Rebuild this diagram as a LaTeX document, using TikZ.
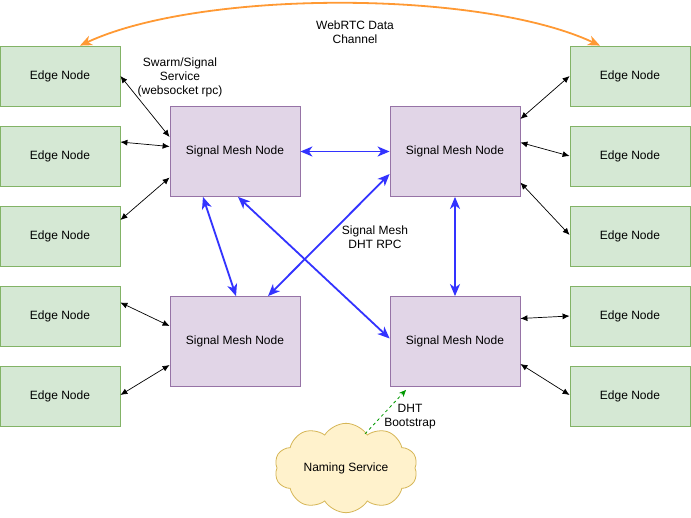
\documentclass[tikz,border=0pt]{standalone}
\usepackage{fontspec}
\setmainfont{Liberation Sans}
\usetikzlibrary{arrows.meta,shapes.symbols}
\definecolor{edgefill}{HTML}{D5E8D4}
\definecolor{edgeline}{HTML}{82B366}
\definecolor{meshfill}{HTML}{E1D5E7}
\definecolor{meshline}{HTML}{9673A6}
\definecolor{cloudfill}{HTML}{FFF2CC}
\definecolor{cloudline}{HTML}{D6B656}
\definecolor{rpcblue}{HTML}{3333FF}
\definecolor{rtcorange}{HTML}{FF9933}
\definecolor{bootgreen}{HTML}{009900}

\begin{document}
\begin{tikzpicture}[x=1pt,y=-1pt,font=\fontsize{12}{14}\selectfont,
    edge/.style = {draw=edgeline, fill=edgefill, line width=0.8pt, minimum width=120pt, minimum height=60pt, inner sep=0pt},
    mesh/.style = {draw=meshline, fill=meshfill, line width=0.8pt, minimum width=130pt, minimum height=90pt, inner sep=0pt},
    link/.style = {{Latex[length=7pt,width=6pt]}-{Latex[length=7pt,width=6pt]}, line width=0.7pt},
    rpc/.style = {{Stealth[length=12pt,width=10pt,inset=3.5pt]}-{Stealth[length=12pt,width=10pt,inset=3.5pt]}, draw=rpcblue, line width=1.8pt},
    lbl/.style = {align=center, inner sep=0pt}]
    \useasboundingbox[fill=white] (0,0) rectangle (691,517);

    \node[edge] (l1) at (60,76) {Edge Node};
    \node[edge] (l2) at (60,156) {Edge Node};
    \node[edge] (l3) at (60,236) {Edge Node};
    \node[edge] (l4) at (60,316) {Edge Node};
    \node[edge] (l5) at (60,396) {Edge Node};
    \node[edge] (r1) at (630,76) {Edge Node};
    \node[edge] (r2) at (630,156) {Edge Node};
    \node[edge] (r3) at (630,236) {Edge Node};
    \node[edge] (r4) at (630,316) {Edge Node};
    \node[edge] (r5) at (630,396) {Edge Node};

    \node[mesh] (tl) at (235,151.5) {Signal Mesh Node};
    \node[mesh] (tr) at (455,151.5) {Signal Mesh Node};
    \node[mesh] (bl) at (235,341.5) {Signal Mesh Node};
    \node[mesh] (br) at (455,341.5) {Signal Mesh Node};

    \node[cloud, cloud puffs=10, cloud puff arc=115, aspect=1.65, draw=cloudline, fill=cloudfill,
        line width=0.8pt, minimum width=143pt, minimum height=87pt, inner sep=0pt] (ns) at (346,468) {Naming Service};

    \node[lbl] (rtc) at (355,32) {WebRTC Data\\Channel};
    \node[lbl] (swarm) at (180,77) {Swarm/Signal\\Service\\(websocket rpc)};
    \node[lbl] (dht) at (375,237) {Signal Mesh\\DHT RPC};
    \node[lbl] (boot) at (410,417) {DHT\\Bootstrap};

    \draw[link] (l1.east) to ([yshift=14.5pt]tl.west);
    \draw[link] ([yshift=14pt]l2.east) to ([yshift=5pt]tl.west);
    \draw[link] ([yshift=-26pt]tl.west) to ([yshift=16pt]l3.east);
    \draw[link] ([yshift=13.5pt]l4.east) to ([yshift=15.5pt]bl.west);
    \draw[link] ([yshift=-23.5pt]bl.west) to ([yshift=1pt]l5.east);
    \draw[link] ([yshift=32.5pt]tr.east) to (r1.west);
    \draw[link] ([yshift=9pt]tr.east) to (r2.west);
    \draw[link] ([yshift=-31pt]tr.east) to ([yshift=1pt]r3.west);
    \draw[link] ([yshift=23pt]br.east) to (r4.west);
    \draw[link] ([yshift=-22.5pt]br.east) to ([yshift=1pt]r5.west);

    \draw[rpc] (tl.east) to (tr.west);
    \draw[rpc] ([xshift=-32pt]tl.south) to ([xshift=1pt]bl.north);
    \draw[rpc] ([xshift=3pt]tl.south) to ([yshift=3pt]br.west);
    \draw[rpc] ([yshift=-22.5pt]tr.west) to ([xshift=33pt]bl.north);
    \draw[rpc] (tr.south) to (br.north);

    \draw[{Stealth[length=12pt,width=10pt,inset=3.5pt]}-{Stealth[length=12pt,width=10pt,inset=3.5pt]}, draw=rtcorange, line width=1.8pt]
        ([xshift=20pt]l1.north) .. controls +(120,-56) and +(-120,-56) .. ([xshift=-30pt]r1.north);
    \draw[-{Stealth[length=7pt,width=6pt,inset=2pt]}, draw=bootgreen, line width=0.8pt, dash pattern=on 3pt off 3pt]
        ([xshift=19pt,yshift=-11pt]ns.north) to ([xshift=-49pt,yshift=-3pt]br.south);
\end{tikzpicture}
\end{document}
